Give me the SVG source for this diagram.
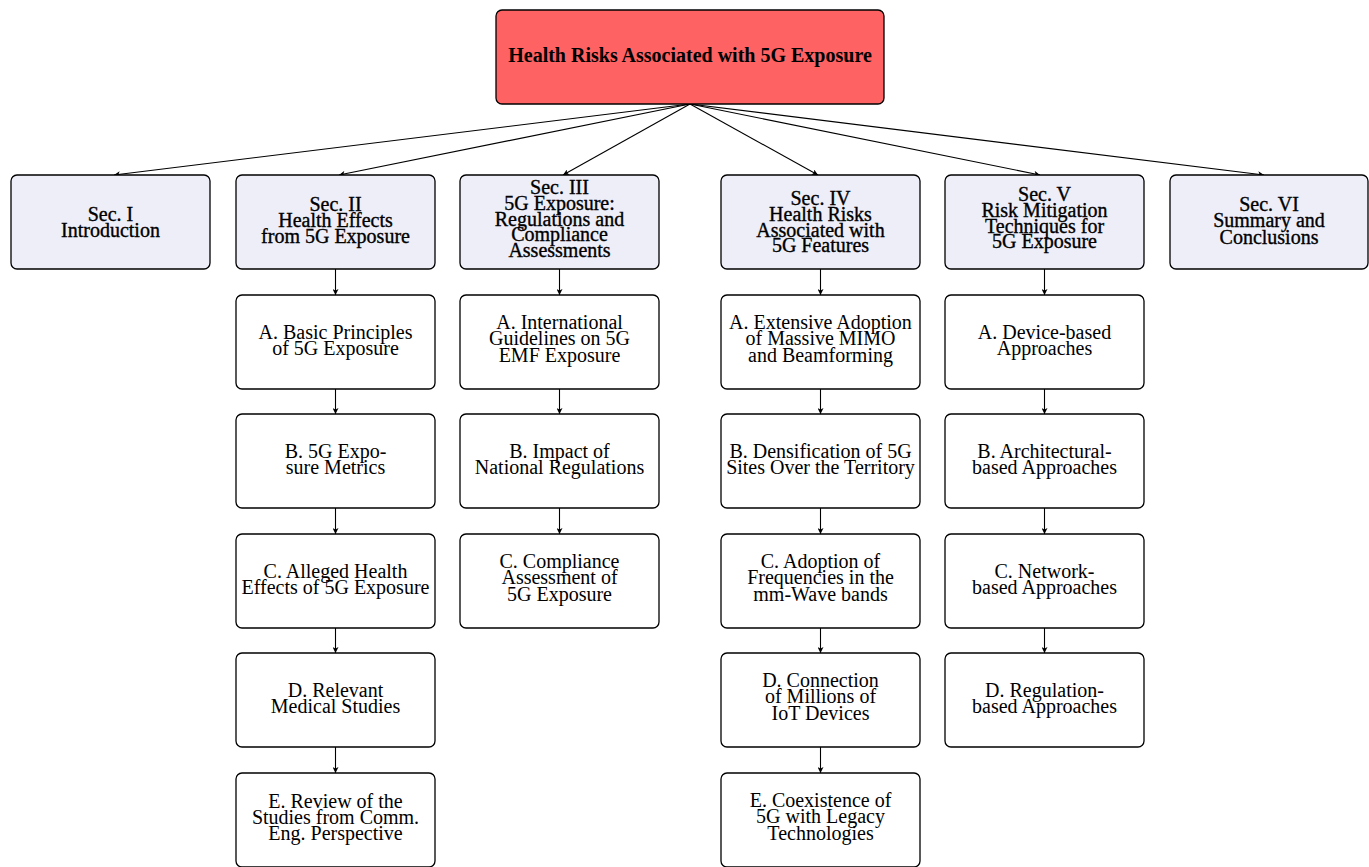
<svg xmlns="http://www.w3.org/2000/svg" width="1369" height="867" viewBox="0 0 1369 867">
<style>
.box{fill:#ffffff;stroke:#000;stroke-width:1.3}
.sec{fill:#EEEEF9;stroke:#000;stroke-width:1.3}
.root{fill:#FF6262;stroke:#000;stroke-width:1.3}
text{font-family:"Liberation Serif","Times New Roman",serif;font-size:20px;text-anchor:middle;fill:#000}
.bold{font-weight:bold}
.st{stroke:#000;stroke-width:0.35}
.edge{stroke:#000;stroke-width:1.1;fill:none;marker-end:url(#ah)}
</style>
<defs>
<marker id="ah" viewBox="0 0 10 10" refX="10" refY="5" markerUnits="userSpaceOnUse" markerWidth="8" markerHeight="6" orient="auto">
<path d="M0,0 L10,5 L0,10 L2.5,5 z" fill="#000"/>
</marker>
</defs>
<rect width="1369" height="867" fill="#fff"/>
<g id="connectors">
<line class="edge" x1="690" y1="104" x2="114" y2="175"/>
<line class="edge" x1="690" y1="104" x2="339" y2="175"/>
<line class="edge" x1="690" y1="104" x2="563" y2="175"/>
<line class="edge" x1="690" y1="104" x2="818" y2="175"/>
<line class="edge" x1="690" y1="104" x2="1040" y2="175"/>
<line class="edge" x1="690" y1="104" x2="1264" y2="175"/>
<line class="edge" x1="335.5" y1="269" x2="335.5" y2="295"/>
<line class="edge" x1="335.5" y1="389" x2="335.5" y2="414"/>
<line class="edge" x1="335.5" y1="508" x2="335.5" y2="534"/>
<line class="edge" x1="335.5" y1="628" x2="335.5" y2="653"/>
<line class="edge" x1="335.5" y1="747" x2="335.5" y2="773"/>
<line class="edge" x1="559.5" y1="269" x2="559.5" y2="295"/>
<line class="edge" x1="559.5" y1="389" x2="559.5" y2="414"/>
<line class="edge" x1="559.5" y1="508" x2="559.5" y2="534"/>
<line class="edge" x1="820.5" y1="269" x2="820.5" y2="295"/>
<line class="edge" x1="820.5" y1="389" x2="820.5" y2="414"/>
<line class="edge" x1="820.5" y1="508" x2="820.5" y2="534"/>
<line class="edge" x1="820.5" y1="628" x2="820.5" y2="653"/>
<line class="edge" x1="820.5" y1="747" x2="820.5" y2="773"/>
<line class="edge" x1="1044.5" y1="269" x2="1044.5" y2="295"/>
<line class="edge" x1="1044.5" y1="389" x2="1044.5" y2="414"/>
<line class="edge" x1="1044.5" y1="508" x2="1044.5" y2="534"/>
<line class="edge" x1="1044.5" y1="628" x2="1044.5" y2="653"/>
</g>
<g id="root">
<rect class="root" x="496" y="10" width="388" height="94" rx="6"/>
<text class="bold" x="690" y="62">Health Risks Associated with 5G Exposure</text>
</g>
<g id="sec1">
<rect class="sec" x="11" y="175" width="199" height="94" rx="6"/>
<text class="st" x="110.5" y="221">Sec. I</text>
<text class="st" x="110.5" y="237.3">Introduction</text>
</g>
<g id="sec2">
<rect class="sec" x="236" y="175" width="199" height="94" rx="6"/>
<text class="st" x="335.5" y="210.5">Sec. II</text>
<text class="st" x="335.5" y="226.8">Health Effects</text>
<text class="st" x="335.5" y="243">from 5G Exposure</text>
</g>
<g id="sec3">
<rect class="sec" x="460" y="175" width="199" height="94" rx="6"/>
<text class="st" x="559.5" y="194.3">Sec. III</text>
<text class="st" x="559.5" y="209.9">5G Exposure:</text>
<text class="st" x="559.5" y="225.5">Regulations and</text>
<text class="st" x="559.5" y="241.1">Compliance</text>
<text class="st" x="559.5" y="256.7">Assessments</text>
</g>
<g id="sec4">
<rect class="sec" x="721" y="175" width="199" height="94" rx="6"/>
<text class="st" x="820.5" y="204.5">Sec. IV</text>
<text class="st" x="820.5" y="220.5">Health Risks</text>
<text class="st" x="820.5" y="236.5">Associated with</text>
<text class="st" x="820.5" y="252.4">5G Features</text>
</g>
<g id="sec5">
<rect class="sec" x="945" y="175" width="199" height="94" rx="6"/>
<text class="st" x="1044.5" y="200.7">Sec. V</text>
<text class="st" x="1044.5" y="216.6">Risk Mitigation</text>
<text class="st" x="1044.5" y="232.5">Techniques for</text>
<text class="st" x="1044.5" y="248.3">5G Exposure</text>
</g>
<g id="sec6">
<rect class="sec" x="1170" y="175" width="198" height="94" rx="6"/>
<text class="st" x="1269" y="211">Sec. VI</text>
<text class="st" x="1269" y="227.3">Summary and</text>
<text class="st" x="1269" y="243.6">Conclusions</text>
</g>
<g id="s2a">
<rect class="box" x="236" y="295" width="199" height="94" rx="6"/>
<text x="335.5" y="338.5">A. Basic Principles</text>
<text x="335.5" y="355">of 5G Exposure</text>
</g>
<g id="s2b">
<rect class="box" x="236" y="414" width="199" height="94" rx="6"/>
<text x="335.5" y="457.5">B. 5G Expo-</text>
<text x="335.5" y="474">sure Metrics</text>
</g>
<g id="s2c">
<rect class="box" x="236" y="534" width="199" height="94" rx="6"/>
<text x="335.5" y="577.5">C. Alleged Health</text>
<text x="335.5" y="594">Effects of 5G Exposure</text>
</g>
<g id="s2d">
<rect class="box" x="236" y="653" width="199" height="94" rx="6"/>
<text x="335.5" y="696.5">D. Relevant</text>
<text x="335.5" y="713">Medical Studies</text>
</g>
<g id="s2e">
<rect class="box" x="236" y="773" width="199" height="94" rx="6"/>
<text x="335.5" y="808">E. Review of the</text>
<text x="335.5" y="824">Studies from Comm.</text>
<text x="335.5" y="839.5">Eng. Perspective</text>
</g>
<g id="s3a">
<rect class="box" x="460" y="295" width="199" height="94" rx="6"/>
<text x="559.5" y="329">A. International</text>
<text x="559.5" y="345.3">Guidelines on 5G</text>
<text x="559.5" y="361.6">EMF Exposure</text>
</g>
<g id="s3b">
<rect class="box" x="460" y="414" width="199" height="94" rx="6"/>
<text x="559.5" y="457.5">B. Impact of</text>
<text x="559.5" y="474">National Regulations</text>
</g>
<g id="s3c">
<rect class="box" x="460" y="534" width="199" height="94" rx="6"/>
<text x="559.5" y="568">C. Compliance</text>
<text x="559.5" y="584.3">Assessment of</text>
<text x="559.5" y="600.6">5G Exposure</text>
</g>
<g id="s4a">
<rect class="box" x="721" y="295" width="199" height="94" rx="6"/>
<text x="820.5" y="329">A. Extensive Adoption</text>
<text x="820.5" y="345.3">of Massive MIMO</text>
<text x="820.5" y="361.6">and Beamforming</text>
</g>
<g id="s4b">
<rect class="box" x="721" y="414" width="199" height="94" rx="6"/>
<text x="820.5" y="457.5">B. Densification of 5G</text>
<text x="820.5" y="474">Sites Over the Territory</text>
</g>
<g id="s4c">
<rect class="box" x="721" y="534" width="199" height="94" rx="6"/>
<text x="820.5" y="568">C. Adoption of</text>
<text x="820.5" y="584.3">Frequencies in the</text>
<text x="820.5" y="600.6">mm-Wave bands</text>
</g>
<g id="s4d">
<rect class="box" x="721" y="653" width="199" height="94" rx="6"/>
<text x="820.5" y="687">D. Connection</text>
<text x="820.5" y="703.3">of Millions of</text>
<text x="820.5" y="719.6">IoT Devices</text>
</g>
<g id="s4e">
<rect class="box" x="721" y="773" width="199" height="94" rx="6"/>
<text x="820.5" y="807">E. Coexistence of</text>
<text x="820.5" y="823.3">5G with Legacy</text>
<text x="820.5" y="839.6">Technologies</text>
</g>
<g id="s5a">
<rect class="box" x="945" y="295" width="199" height="94" rx="6"/>
<text x="1044.5" y="338.5">A. Device-based</text>
<text x="1044.5" y="355">Approaches</text>
</g>
<g id="s5b">
<rect class="box" x="945" y="414" width="199" height="94" rx="6"/>
<text x="1044.5" y="457.5">B. Architectural-</text>
<text x="1044.5" y="474">based Approaches</text>
</g>
<g id="s5c">
<rect class="box" x="945" y="534" width="199" height="94" rx="6"/>
<text x="1044.5" y="577.5">C. Network-</text>
<text x="1044.5" y="594">based Approaches</text>
</g>
<g id="s5d">
<rect class="box" x="945" y="653" width="199" height="94" rx="6"/>
<text x="1044.5" y="696.5">D. Regulation-</text>
<text x="1044.5" y="713">based Approaches</text>
</g>
</svg>
